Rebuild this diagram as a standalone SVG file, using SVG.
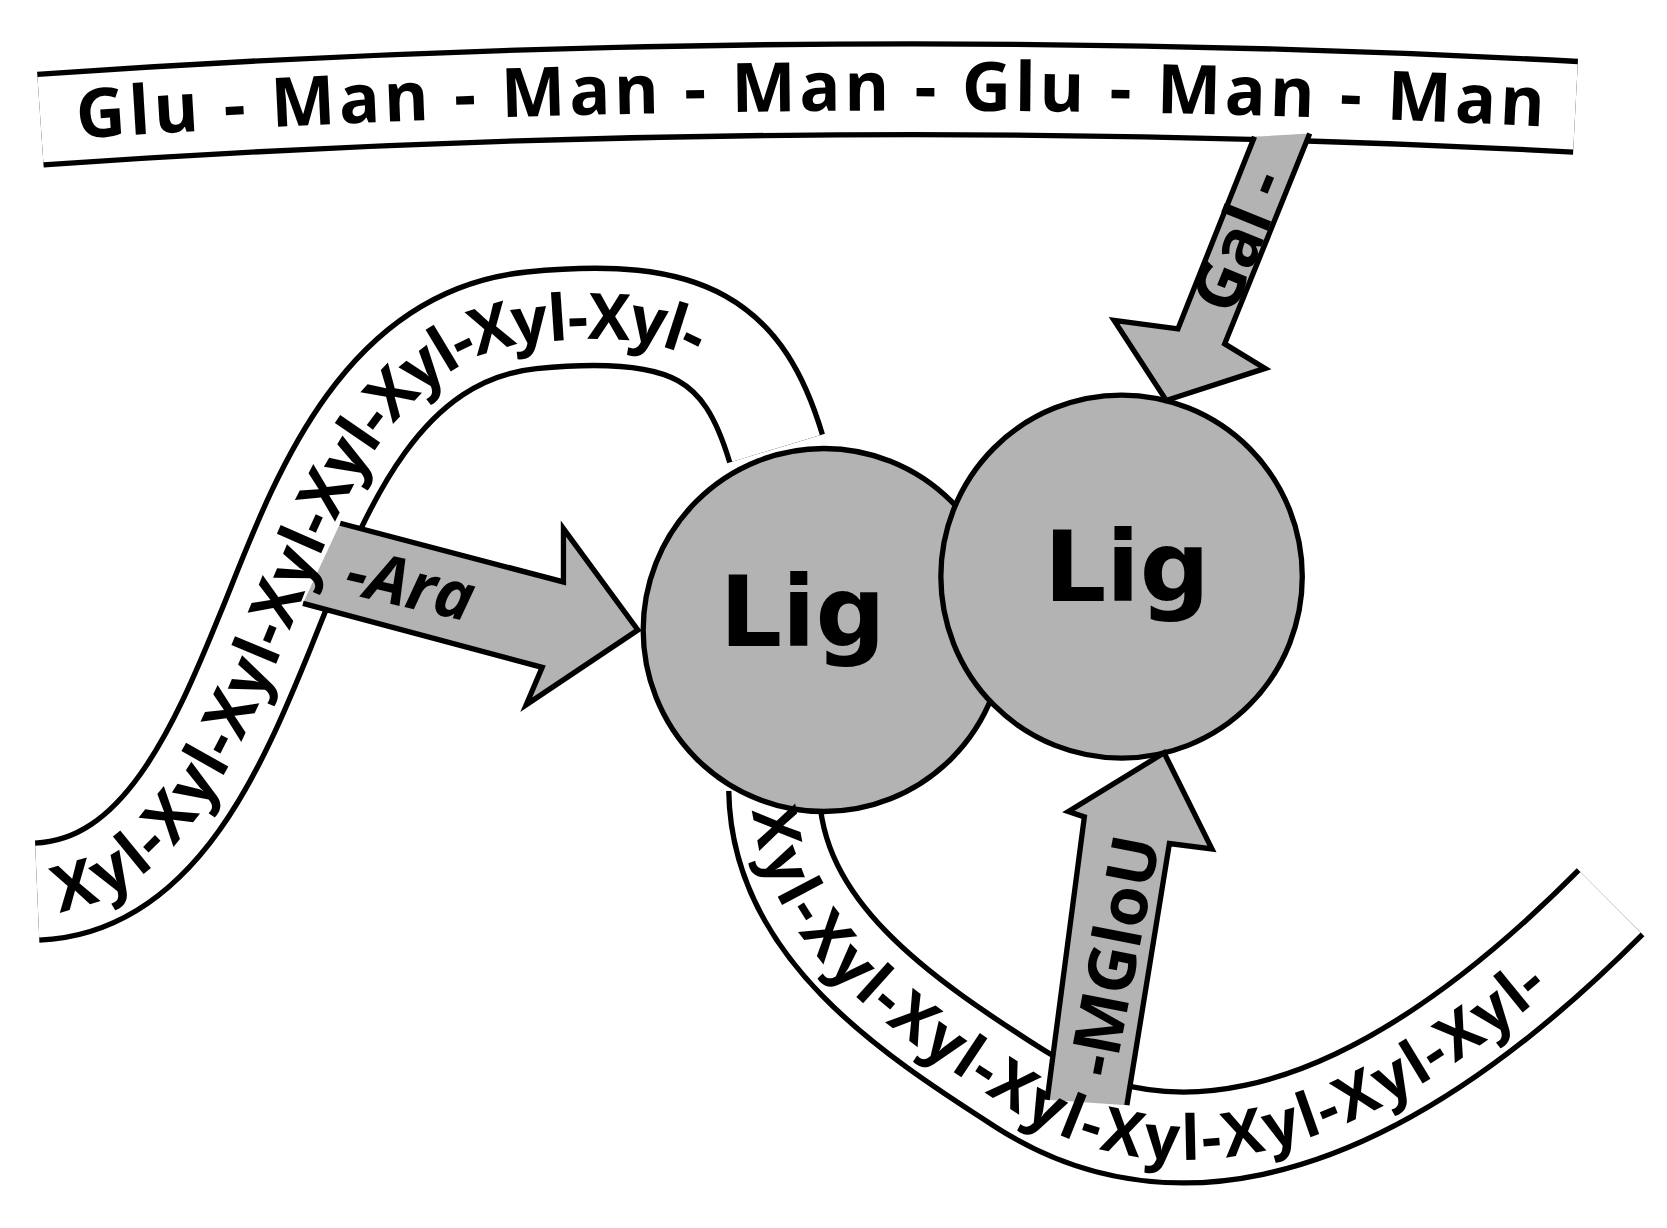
<svg xmlns="http://www.w3.org/2000/svg" width="1667" height="1228" viewBox="0 0 1667 1228">
<style>
.bo{fill:none;stroke:#000;stroke-width:96}
.bi{fill:none;stroke:#fff;stroke-width:86}
.t{font-family:"Open Sans","DejaVu Sans",sans-serif;font-weight:bold;fill:#000}
.lig{font-family:"DejaVu Sans",sans-serif;font-weight:bold;font-size:92px;fill:#000}
.ar{fill:#b3b3b3;stroke:none}
.al{fill:none;stroke:#000;stroke-width:5;stroke-linejoin:miter}
.c{fill:#b3b3b3;stroke:#000;stroke-width:5}
</style>
<defs>
<path id="pTop" d="M 38 112 Q 760 62 1482 100"/>
<path id="pTopT" d="M 38 132 Q 760 82 1482 120"/>
<path id="pL" d="M 35 835 C 150 830 205 700 250 590 S 350 315 500 300 S 700 320 730 420"/>
<path id="pB" d="M 728 740 C 730 870 850 950 960 1020 S 1250 1110 1515 845"/>
</defs>
<rect width="1667" height="1228" fill="#fff"/>
<g transform="scale(1.0631,1.0678)">
<g id="bands">
<use href="#pTop" class="bo" style="stroke-width:90"/><use href="#pTop" class="bi" style="stroke-width:80"/>
<use href="#pL" class="bo"/><use href="#pL" class="bi"/>
<use href="#pB" class="bo" style="stroke-width:90"/><use href="#pB" class="bi" style="stroke-width:80"/>
</g>
<g id="lig1"><circle class="c" cx="775" cy="590" r="170"/><text class="lig" x="755" y="605" text-anchor="middle">Lig</text></g>
<g id="lig2"><circle class="c" cx="1055" cy="540" r="170"/><text class="lig" x="1060" y="563" text-anchor="middle">Lig</text></g>
<g id="connectors">
<path class="ar" d="M1180,128 L1108,308 L1048,300 L1097,375 L1190,345 L1152,322 L1232,125 Z"/>
<path class="al" d="M1180,128 L1108,308 L1048,300 L1097,375 L1190,345 L1152,322 L1232,125"/>
<path class="ar" d="M320,490 L530,545 L530,495 L600,590 L495,660 L510,625 L285,565 Z"/>
<path class="al" d="M320,490 L530,545 L530,495 L600,590 L495,660 L510,625 L285,565"/>
<path class="ar" d="M985,1030 L1020,765 L1005,760 L1095,705 L1140,795 L1100,790 L1060,1035 Z"/>
<path class="al" d="M985,1030 L1020,765 L1005,760 L1095,705 L1140,795 L1100,790 L1060,1035"/>
</g>
<g id="labels">
<text class="t" font-size="64"><textPath href="#pTopT" startOffset="35" textLength="1380" lengthAdjust="spacing">Glu - Man - Man - Man - Glu - Man - Man</textPath></text>
<text class="t" font-size="60"><textPath href="#pL" startOffset="15" textLength="900" lengthAdjust="spacing"><tspan dy="21">Xyl-Xyl-Xyl-Xyl-Xyl-Xyl-Xyl-Xyl-</tspan></textPath></text>
<text class="t" font-size="58"><textPath href="#pB" startOffset="15" textLength="900" lengthAdjust="spacing"><tspan dy="21">Xyl-Xyl-Xyl-Xyl-Xyl-Xyl-Xyl-Xyl-</tspan></textPath></text>
<text class="t" font-size="62" font-style="italic" transform="translate(322,555) rotate(13)">-Ara</text>
<text class="t" font-size="62" text-anchor="middle" transform="translate(1165,225) rotate(-68)" y="22">Gal -</text>
<text class="t" font-size="62" text-anchor="middle" transform="translate(1048,895) rotate(-79)" y="22">-MGloU</text>
</g>
</g>
</svg>
